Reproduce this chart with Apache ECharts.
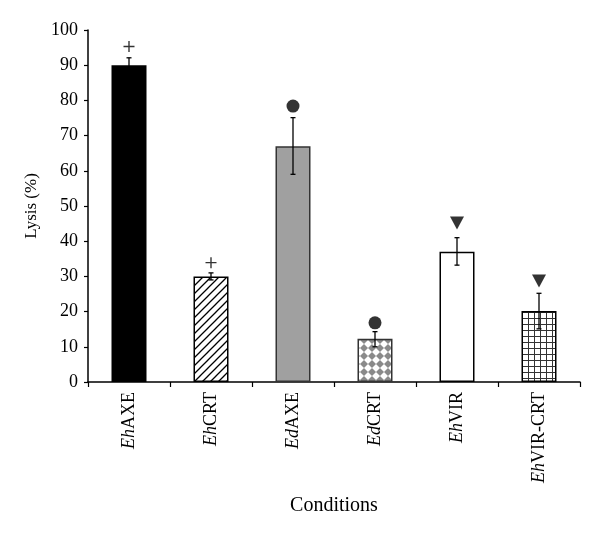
<!DOCTYPE html>
<html>
<head>
<meta charset="utf-8">
<script src="https://cdn.jsdelivr.net/npm/echarts@6/dist/echarts.min.js"></script>
<style>
html,body{margin:0;padding:0;background:#fff;}
#chart{width:600px;height:544px;}
</style>
</head>
<body>
<div id="chart"></div>
<script>
// ---- data ----
var prefixes = ['Eh', 'Eh', 'Ed', 'Ed', 'Eh', 'Eh'];
var suffixes = ['AXE', 'CRT', 'AXE', 'CRT', 'VIR', 'VIR-CRT'];
var categories = prefixes.map(function (p, i) { return p + suffixes[i]; });
var lysis = [90, 30, 67, 12.3, 37, 20.2];
var errLow = [88, 29, 59, 10, 33.2, 15.1];
var errHigh = [92.1, 31, 75.1, 14.3, 41, 25.2];
var markerValues = [95.3, 33.9, 78.4, 16.8, 45.2, 28.7];
var markerTypes = ['plus', 'plus', 'circle', 'circle', 'triangle', 'triangle'];
var yTicks = [0, 10, 20, 30, 40, 50, 60, 70, 80, 90, 100];

// ---- patterns ----
function makeCanvas(w, h, draw) {
  var c = document.createElement('canvas');
  c.width = w; c.height = h;
  var ctx = c.getContext('2d');
  ctx.fillStyle = '#fff';
  ctx.fillRect(0, 0, w, h);
  draw(ctx);
  return c;
}
var hatch = makeCanvas(8, 8, function (ctx) {
  ctx.strokeStyle = '#000';
  ctx.lineWidth = 1.3;
  ctx.beginPath();
  ctx.moveTo(0, 8); ctx.lineTo(8, 0);
  ctx.moveTo(-4, 4); ctx.lineTo(4, -4);
  ctx.moveTo(4, 12); ctx.lineTo(12, 4);
  ctx.stroke();
});
var diamonds = makeCanvas(8, 8, function (ctx) {
  ctx.fillStyle = '#8a8a8a';
  ctx.beginPath();
  ctx.moveTo(4, 0); ctx.lineTo(8, 4); ctx.lineTo(4, 8); ctx.lineTo(0, 4);
  ctx.closePath();
  ctx.fill();
});
var grid = makeCanvas(6, 6, function (ctx) {
  ctx.fillStyle = '#333';
  ctx.fillRect(0, 0, 6, 1);
  ctx.fillRect(0, 0, 1, 6);
});

var barStyles = [
  { color: '#000000', borderColor: '#000', borderWidth: 1.5 },
  { color: { image: hatch, repeat: 'repeat' }, borderColor: '#000', borderWidth: 1.5 },
  { color: '#a0a0a0', borderColor: '#333', borderWidth: 1.5 },
  { color: { image: diamonds, repeat: 'repeat' }, borderColor: '#333', borderWidth: 1.5 },
  { color: '#ffffff', borderColor: '#000', borderWidth: 1.5 },
  { color: { image: grid, repeat: 'repeat' }, borderColor: '#000', borderWidth: 1.5 }
];

var symbolFor = {
  plus: { symbol: 'path://M9,0h2.6v9h9v2.6h-9v9h-2.6v-9h-9v-2.6h9z', size: 11 },
  circle: { symbol: 'circle', size: 13 },
  triangle: { symbol: 'path://M0,0L14,0L7,13Z', size: [14, 13] }
};

var fontFam = '"Liberation Serif", "DejaVu Serif", serif';

var chart = echarts.init(document.getElementById('chart'));
chart.setOption({
  animation: false,
  backgroundColor: '#fff',
  grid: { left: 88, right: 20, top: 30, bottom: 162 },
  xAxis: {
    type: 'category',
    data: categories,
    name: 'Conditions',
    nameLocation: 'middle',
    nameGap: 114,
    nameTextStyle: { fontFamily: fontFam, fontSize: 20, color: '#000' },
    axisLine: { lineStyle: { color: '#000', width: 1.5 } },
    axisTick: { show: true, length: 5, lineStyle: { color: '#000', width: 1.2 } },
    axisLabel: {
      rotate: 90,
      margin: 10,
      interval: 0,
      formatter: function (v, i) { return '{i|' + prefixes[i] + '}{n|' + suffixes[i] + '}'; },
      rich: {
        i: { fontFamily: fontFam, fontStyle: 'italic', fontSize: 18, color: '#000' },
        n: { fontFamily: fontFam, fontSize: 18, color: '#000' }
      }
    }
  },
  yAxis: {
    type: 'value',
    min: yTicks[0],
    max: yTicks[yTicks.length - 1],
    interval: yTicks[1] - yTicks[0],
    name: 'Lysis (%)',
    nameLocation: 'middle',
    nameGap: 48,
    nameRotate: 90,
    nameTextStyle: { fontFamily: fontFam, fontSize: 17, color: '#000' },
    axisLine: { show: true, lineStyle: { color: '#000', width: 1.5 } },
    axisTick: { show: true, length: 4, lineStyle: { color: '#000', width: 1.2 } },
    splitLine: { show: false },
    axisLabel: { fontFamily: fontFam, fontSize: 18, color: '#000', margin: 10 }
  },
  series: [
    {
      type: 'bar',
      barWidth: 35,
      data: lysis.map(function (v, i) { return { value: v, itemStyle: barStyles[i] }; }),
      z: 2
    },
    {
      type: 'custom',
      z: 5,
      data: categories.map(function (c, i) { return [i, errLow[i], errHigh[i]]; }),
      renderItem: function (params, api) {
        var x = api.value(0);
        var pHi = api.coord([x, api.value(2)]);
        var pLo = api.coord([x, api.value(1)]);
        var cap = 2.5;
        var st = { stroke: '#000', lineWidth: 1.3 };
        return {
          type: 'group',
          children: [
            { type: 'line', shape: { x1: pHi[0], y1: pHi[1], x2: pLo[0], y2: pLo[1] }, style: st },
            { type: 'line', shape: { x1: pHi[0] - cap, y1: pHi[1], x2: pHi[0] + cap, y2: pHi[1] }, style: st },
            { type: 'line', shape: { x1: pLo[0] - cap, y1: pLo[1], x2: pLo[0] + cap, y2: pLo[1] }, style: st }
          ]
        };
      }
    },
    {
      type: 'scatter',
      z: 6,
      data: markerValues.map(function (v, i) {
        var s = symbolFor[markerTypes[i]];
        return {
          value: [i, v],
          symbol: s.symbol,
          symbolSize: s.size,
          itemStyle: { color: '#000' }
        };
      })
    }
  ]
});
</script>
</body>
</html>
